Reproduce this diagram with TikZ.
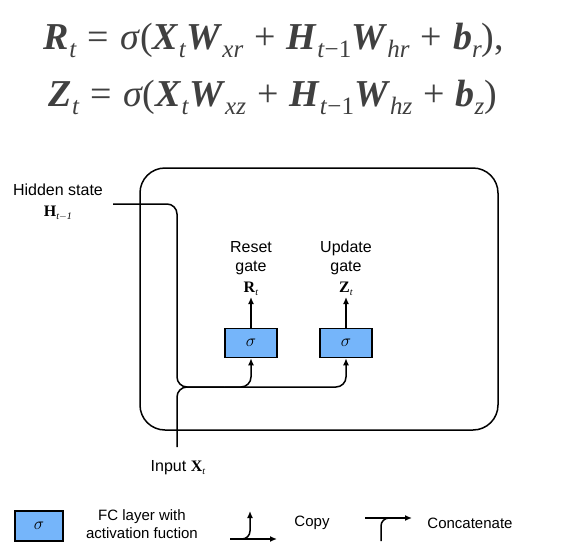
\documentclass[tikz,border=0pt]{standalone}
\usepackage{fontspec}
\setmainfont{Liberation Sans}
\newfontfamily\eqfont{Liberation Serif}
\usetikzlibrary{arrows.meta,positioning}
\definecolor{gateblue}{HTML}{75B5FA}
\definecolor{eqgray}{HTML}{404040}
% bold italic letter, lowered subscript and spaced operator for the equations
\newcommand{\bv}[1]{\textbf{\textit{#1}}}
\newcommand{\eqsub}[1]{\raisebox{-8pt}{\fontsize{25}{25}\selectfont #1}}
\newcommand{\eqop}[1]{\hspace{11pt}#1\hspace{11pt}}
% bold upright vector with small subscript for the labels
\newcommand{\vlab}[2]{{\eqfont\textbf{#1}\raisebox{-3pt}{\fontsize{10}{10}\selectfont\textit{#2}}}}

\begin{document}
\begin{tikzpicture}[x=1pt,y=-1pt,
  line/.style={line width=1.5pt},
  arrow/.style={line width=1.5pt,-{Latex[length=7pt,width=6pt]}},
  fcbox/.style={draw,line width=1.5pt,fill=gateblue,minimum width=52pt,minimum height=29pt,inner sep=0pt,font=\fontsize{17}{17}\selectfont},
  lbl/.style={font=\fontsize{16}{19}\selectfont,align=center,inner sep=1pt},
  leg/.style={font=\fontsize{15}{18}\selectfont,align=center,inner sep=1pt}]
\useasboundingbox (0,0) rectangle (566,552);

% Equations
\node[text=eqgray,font=\eqfont\fontsize{38}{40}\selectfont,anchor=base,inner sep=0pt] (eqr) at (274,49)
  {\bv{R}\eqsub{\textit{t}}\eqop{=}\textit{σ}(\bv{X}\eqsub{\textit{t}}\bv{W}\eqsub{\textit{xr}}\eqop{+}\bv{H}\eqsub{\textit{t}−1}\bv{W}\eqsub{\textit{hr}}\eqop{+}\bv{b}\eqsub{\textit{r}}),};
\node[text=eqgray,font=\eqfont\fontsize{38}{40}\selectfont,anchor=base,inner sep=0pt] (eqz) at (273,106)
  {\bv{Z}\eqsub{\textit{t}}\eqop{=}\textit{σ}(\bv{X}\eqsub{\textit{t}}\bv{W}\eqsub{\textit{xz}}\eqop{+}\bv{H}\eqsub{\textit{t}−1}\bv{W}\eqsub{\textit{hz}}\eqop{+}\bv{b}\eqsub{\textit{z}})};

% GRU cell
\node[draw,line width=1.5pt,rounded corners=25pt,minimum width=358pt,minimum height=262pt] (cell) at (319,299) {};

% Gates
\node[fcbox] (rsig) at (251,343) {$\sigma$};
\node[fcbox] (zsig) at (346,343) {$\sigma$};
\node[lbl,anchor=south] (rlab) at (251,297) {Reset\\gate\\[2pt]\vlab{R}{t}};
\node[lbl,anchor=south] (zlab) at (346,297) {Update\\gate\\[2pt]\vlab{Z}{t}};
\draw[arrow] (rsig) -- (rlab);
\draw[arrow] (zsig) -- (zlab);

% Inputs
\node[lbl] (hlab) at (58,202) {Hidden state\\[2pt]\vlab{H}{t$-$1}};
\node[lbl] (xlab) at (178,468) {Input \vlab{X}{t}};
\coordinate (hin) at (113,204);
\coordinate (xin) at (177,447);
\coordinate (join) at (177,387);
\draw[arrow,rounded corners=10pt] (hin) -| (join) -| (zsig.south);
\draw[line,rounded corners=10pt] (xin) |- (rsig.west |- join);
\draw[arrow,rounded corners=10pt] (rsig.west |- join) -| (rsig.south);

% Legend
\node[fcbox,minimum width=48pt,minimum height=30pt] (legfc) at (39,526) {$\sigma$};
\node[leg] (leglab) at (142,524) {FC layer with\\activation fuction};
\coordinate (cpa) at (230,539);
\coordinate (cpb) at (277,539);
\coordinate (cpup) at (250,511);
\draw[arrow] (cpa) -- (cpb);
\draw[arrow,rounded corners=8pt] (240,539) -| (cpup);
\node[leg] (copylab) at (312,523) {Copy};
\coordinate (cca) at (365,518);
\coordinate (ccb) at (412,518);
\coordinate (ccin) at (381,541);
\draw[arrow] (cca) -- (ccb);
\draw[line,rounded corners=8pt] (ccin) |- (395,518);
\node[leg] (catlab) at (470,523) {Concatenate};
\end{tikzpicture}
\end{document}
